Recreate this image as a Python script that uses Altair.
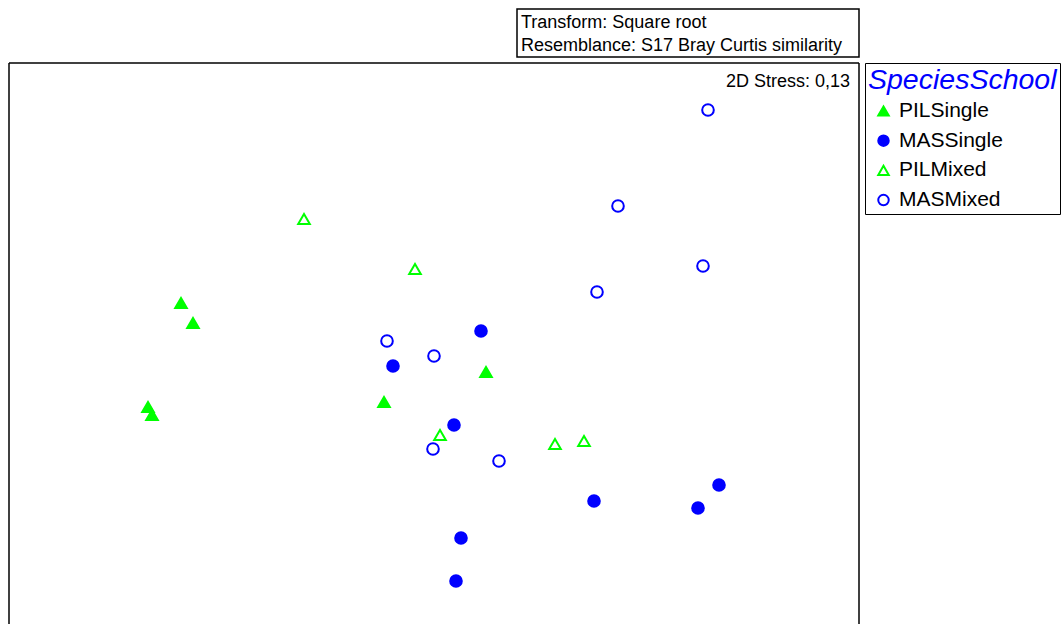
import altair as alt
import pandas as pd

# NMDS ordination scores (dimension 1, dimension 2) for each school sample
pil_single_x = [-2.53, -2.41, -2.86, -2.82, -0.50, 0.52]
pil_single_y = [0.40, 0.20, -0.64, -0.72, -0.59, -0.29]

mas_single_x = [0.47, -0.41, 0.20, 1.60, 2.85, 2.64, 0.27, 0.22]
mas_single_y = [0.12, -0.23, -0.82, -1.58, -1.42, -1.65, -1.95, -2.38]

pil_mixed_x = [-1.30, -0.19, 0.06, 1.21, 1.50]
pil_mixed_y = [1.24, 0.74, -0.92, -1.01, -0.98]

mas_mixed_x = [2.74, 1.84, 2.69, 1.63, -0.47, 0.00, -0.01, 0.65]
mas_mixed_y = [2.33, 1.37, 0.77, 0.51, 0.02, -0.13, -1.06, -1.18]

groups = ["PILSingle", "MASSingle", "PILMixed", "MASMixed"]
shapes = ["triangle-up", "circle", "triangle-up", "circle"]
strokes = ["#00ff00", "#0000ff", "#00ff00", "#0000ff"]
fills = ["#00ff00", "#0000ff", "transparent", "transparent"]

info_lines = ["Transform: Square root", "Resemblance: S17 Bray Curtis similarity"]
stress_label = "2D Stress: 0,13"

x_domain = [-4.25, 4.25]
y_domain = [-2.81, 2.80]

rows = []
for name, xs, ys in [
    ("PILSingle", pil_single_x, pil_single_y),
    ("MASSingle", mas_single_x, mas_single_y),
    ("PILMixed", pil_mixed_x, pil_mixed_y),
    ("MASMixed", mas_mixed_x, mas_mixed_y),
]:
    for a, b in zip(xs, ys):
        rows.append({"MDS1": a, "MDS2": b, "SpeciesSchool": name})
df = pd.DataFrame(rows)

FONT = "Liberation Sans"
W, H = 850, 561

legend = alt.Legend(
    title="SpeciesSchool",
    orient="none",
    legendX=856,
    legendY=0,
    strokeColor="black",
    fillColor="white",
    padding=3,
    titleFont=FONT,
    titleFontStyle="italic",
    titleFontWeight="normal",
    titleFontSize=28.5,
    titleColor="#0000ff",
    titlePadding=6,
    titleLimit=400,
    labelFont=FONT,
    labelFontSize=21,
    labelColor="black",
    labelOffset=5,
    labelLimit=300,
    symbolSize=110,
    symbolStrokeWidth=2,
    rowPadding=7.7,
    symbolOffset=5,
)

points = alt.Chart(df).mark_point(size=135, strokeWidth=2, opacity=1).encode(
    x=alt.X("MDS1:Q", axis=None, scale=alt.Scale(domain=x_domain, nice=False, zero=False)),
    y=alt.Y("MDS2:Q", axis=None, scale=alt.Scale(domain=y_domain, nice=False, zero=False)),
    shape=alt.Shape("SpeciesSchool:N", scale=alt.Scale(domain=groups, range=shapes), legend=legend),
    stroke=alt.Stroke("SpeciesSchool:N", scale=alt.Scale(domain=groups, range=strokes), legend=legend),
    fill=alt.Fill("SpeciesSchool:N", scale=alt.Scale(domain=groups, range=fills), legend=legend),
)

one = pd.DataFrame({"k": [0]})

# plot frame (open at the bottom)
frame_left = alt.Chart(one).mark_rule(color="black", strokeWidth=1.5).encode(
    x=alt.value(0), y=alt.value(0), y2=alt.value(H))
frame_right = alt.Chart(one).mark_rule(color="black", strokeWidth=1.5).encode(
    x=alt.value(W), y=alt.value(0), y2=alt.value(H))
frame_top = alt.Chart(one).mark_rule(color="black", strokeWidth=1.5).encode(
    x=alt.value(0), x2=alt.value(W), y=alt.value(0))

# transform / resemblance box above the plot
info_box = alt.Chart(one).mark_rect(fill="white", stroke="black", strokeWidth=1.5).encode(
    x=alt.value(508), x2=alt.value(W), y=alt.value(-54), y2=alt.value(-6))
info_text = alt.Chart(pd.DataFrame({"t": ["\n".join(info_lines)]})).mark_text(
    align="left", baseline="alphabetic", font=FONT, fontSize=18, color="black",
    lineBreak="\n", lineHeight=23,
).encode(x=alt.value(512), y=alt.value(-35), text="t:N")

stress = alt.Chart(pd.DataFrame({"t": [stress_label]})).mark_text(
    align="right", baseline="alphabetic", font=FONT, fontSize=18, color="black"
).encode(x=alt.value(W - 9), y=alt.value(24), text="t:N")

chart = alt.layer(
    frame_left, frame_right, frame_top, info_box, info_text, stress, points
).properties(
    width=W,
    height=H,
    autosize=alt.AutoSizeParams(type="none"),
    padding={"left": 9, "top": 63, "right": 205, "bottom": 0},
    background="white",
).configure_view(stroke=None)

chart.save("out.html", embed_options={"renderer": "svg", "actions": False})
